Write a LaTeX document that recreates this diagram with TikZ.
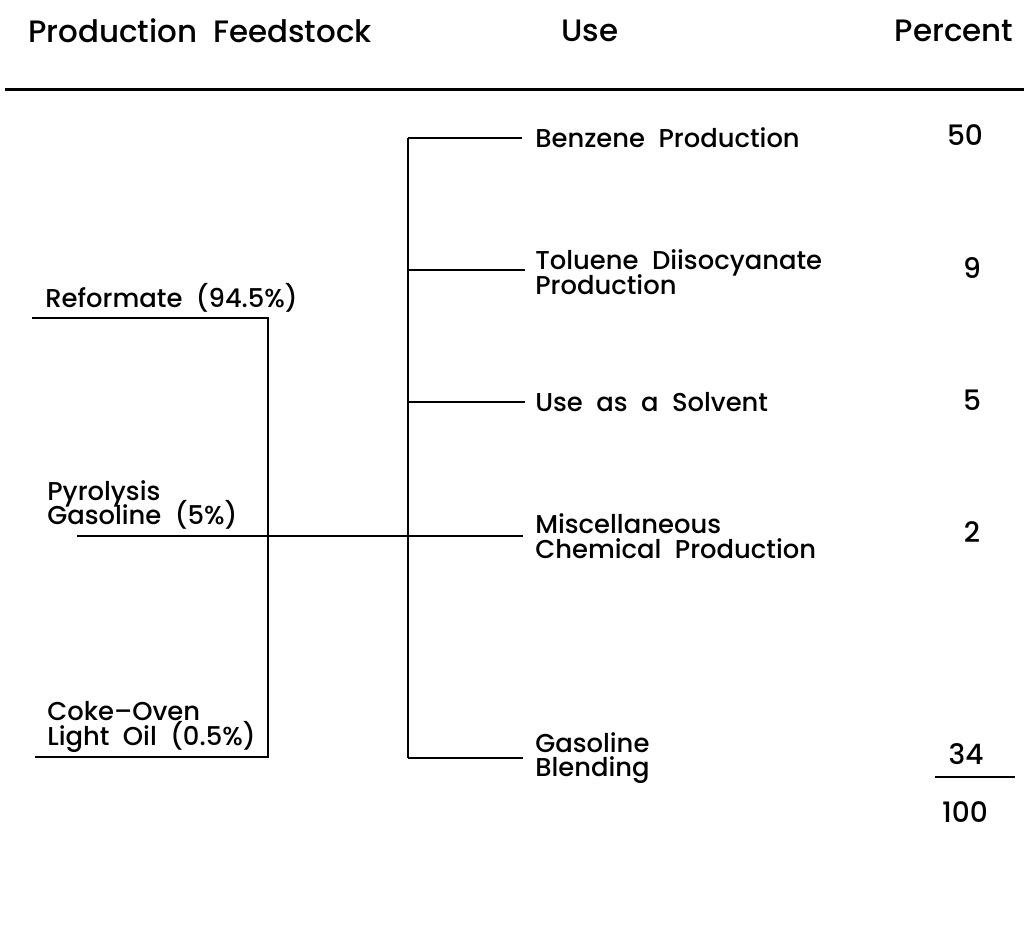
\documentclass[tikz,border=0pt]{standalone}
\usepackage{fontspec}
\setmainfont{Poppins}[UprightFont=* Medium]
\usetikzlibrary{positioning,calc}

\newcommand{\tightskip}{\lineskiplimit=-20pt\relax}

\tikzset{
  head/.style={inner sep=0pt,font=\fontsize{17.6}{20}\selectfont},
  use/.style={anchor=west,inner sep=0pt,align=left,font=\fontsize{14.7}{14}\selectfont\tightskip},
  pct/.style={inner sep=0pt,font=\fontsize{16}{14}\selectfont},
  flow/.style={line width=1.1pt},
}

\begin{document}
\begin{tikzpicture}[x=0.02cm,y=-0.02cm]
\useasboundingbox (0,0) rectangle (1024,938);

% Column headings
\node[head] (hFeed) at (200,31) {Production\ \ Feedstock};
\node[head] (hUse) at (590,31) {Use};
\node[head] (hPct) at (954,31) {Percent};
\coordinate (ruleL) at (5,89);
\coordinate (ruleR) at (1024,89);
\draw[line width=1.7pt] (ruleL) -- (ruleR);

% Left side feedstock labels
\node[use] (reform) at (45,298) {Reformate\ \ (94.5\%)};
\node[use] (pyro) at (47,505) {Pyrolysis\\Gasoline\ \ (5\%)};
\node[use] (coke) at (47,727) {Coke--Oven\\Light\ \ Oil\ \ (0.5\%)};

% Left side junctions
\coordinate (refL) at (32,318);
\coordinate (refJ) at (268,318);
\coordinate (cokeJ) at (268,757);
\coordinate (cokeL) at (35,757);
\coordinate (pyroL) at (77,536);

% Right side use labels
\node[use] (benz) at (535,138) {Benzene\ \ Production};
\node[use] (tdi) at (535,272) {Toluene\ \ Diisocyanate\\Production};
\node[use] (solv) at (535,402) {Use\ \ as\ \ a\ \ Solvent};
\node[use] (misc) at (535,536) {Miscellaneous\\Chemical\ \ Production};
\node[use] (gasb) at (535,758) {Gasoline\\Blending};

% Trunk junctions
\coordinate (tBenz) at (408,138);
\coordinate (tTdi) at (408,270);
\coordinate (tSolv) at (408,402);
\coordinate (tGasb) at (408,758);

% Percent column
\node[pct] (pBenz) at (965,135) {50};
\node[pct] (pTdi) at (972,268) {9};
\node[pct] (pSolv) at (972,400) {5};
\node[pct] (pMisc) at (972,532) {2};
\node[pct] (pGasb) at (966,754) {34};
\coordinate (sumL) at (935,777);
\coordinate (sumR) at (1015,777);
\node[pct] (pSum) at (965,812) {100};

% Left side lines
\draw[flow] (refL) -- (refJ) -- (cokeJ) -- (cokeL);
\draw[flow,shorten >=0.24cm] (pyroL) -- (misc.west);

% Right side trunk and branches
\draw[flow] (tBenz) -- (tGasb);
\draw[flow,shorten >=0.26cm] (tBenz) -- (benz.west);
\draw[flow,shorten >=0.2cm] (tTdi) -- (tTdi -| tdi.west);
\draw[flow,shorten >=0.2cm] (tSolv) -- (solv.west);
\draw[flow,shorten >=0.24cm] (tGasb) -- (gasb.west);

% Total rule
\draw[flow] (sumL) -- (sumR);
\end{tikzpicture}
\end{document}
